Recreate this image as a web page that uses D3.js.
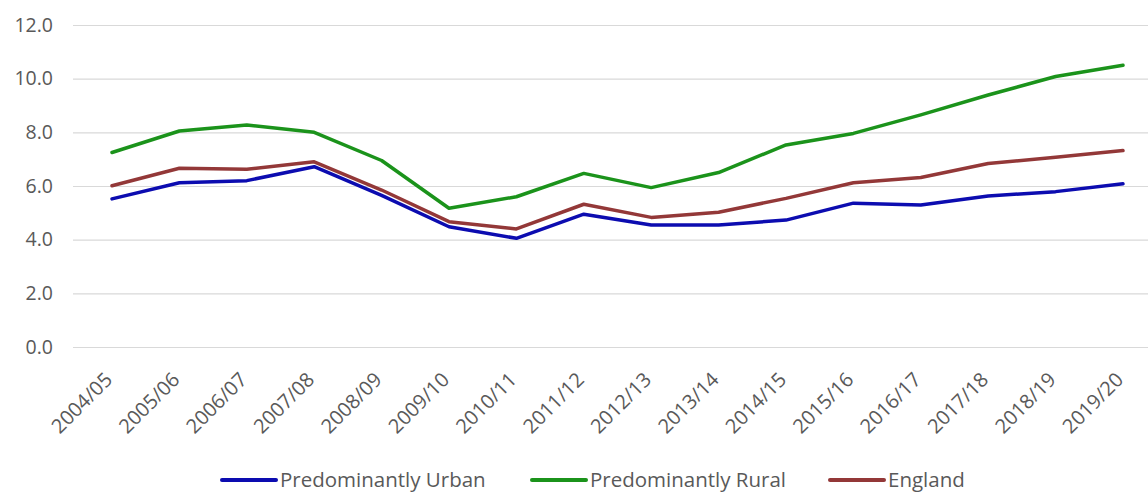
<!DOCTYPE html>
<html>
<head>
<meta charset="utf-8">
<script src="https://cdn.jsdelivr.net/npm/d3@7"></script>
<style>
  body { margin: 0; background: #fff; }
  text { font-family: "Open Sans", Lato, sans-serif; fill: #595959; }
</style>
</head>
<body>
<svg width="1148" height="493"></svg>
<script>
var years = ["2004/05", "2005/06", "2006/07", "2007/08", "2008/09", "2009/10", "2010/11", "2011/12",
    "2012/13", "2013/14", "2014/15", "2015/16", "2016/17", "2017/18", "2018/19", "2019/20"];

var urban   = [5.52, 6.12, 6.20, 6.72, 5.65, 4.48, 4.05, 4.95, 4.55, 4.55, 4.73, 5.36, 5.29, 5.63, 5.79, 6.08];
var rural   = [7.25, 8.05, 8.27, 8.00, 6.95, 5.17, 5.60, 6.47, 5.94, 6.50, 7.53, 7.96, 8.65, 9.39, 10.08, 10.50];
var england = [6.01, 6.66, 6.62, 6.90, 5.85, 4.67, 4.40, 5.32, 4.83, 5.02, 5.54, 6.12, 6.32, 6.84, 7.07, 7.32];

var yTicks = [0, 2, 4, 6, 8, 10, 12];

var series = [
    {name: "Predominantly Urban", values: urban, color: "#0c0cb0"},
    {name: "Predominantly Rural", values: rural, color: "#1b931b"},
    {name: "England", values: england, color: "#933838"}
];

var svg = d3.select("svg"),
    plotLeft = 73, plotRight = 1148, plotTop = 25, plotBottom = 347;

var x = d3.scalePoint().domain(years).range([112, 1123]),
    y = d3.scaleLinear().domain([0, 12]).range([plotBottom, plotTop]);

// gridlines + y labels
var yAxis = d3.axisLeft(y)
    .tickValues(yTicks)
    .tickSize(-(plotRight - plotLeft))
    .tickPadding(20)
    .tickFormat(d3.format(".1f"));

var yG = svg.append("g")
    .attr("transform", "translate(" + plotLeft + ",0)")
    .call(yAxis);
yG.select(".domain").remove();
yG.selectAll("line").attr("stroke", "#d9d9d9").attr("stroke-width", 1.2);
yG.selectAll("text")
    .style("font-size", "19.5px")
    .attr("fill", "#595959");

// x labels
var xAxis = d3.axisBottom(x).tickSize(0).tickPadding(0);
var xG = svg.append("g")
    .attr("transform", "translate(0," + plotBottom + ")")
    .call(xAxis);
xG.select(".domain").remove();
xG.selectAll("text")
    .style("font-size", "20px")
    .attr("fill", "#595959")
    .style("text-anchor", "end")
    .attr("dy", null)
    .attr("y", 0)
    .attr("transform", "translate(1,34) rotate(-45)");

// lines
var line = d3.line()
    .x(function(d, i) { return x(years[i]); })
    .y(function(d) { return y(d); });

svg.selectAll(".series")
    .data(series)
    .enter().append("path")
    .attr("class", "series")
    .attr("d", function(s) { return line(s.values); })
    .attr("fill", "none")
    .attr("stroke", function(s) { return s.color; })
    .attr("stroke-width", 3.5)
    .attr("stroke-linejoin", "round")
    .attr("stroke-linecap", "round");

// legend
var legendX = [222, 532, 830];
var leg = svg.selectAll(".legend")
    .data(series)
    .enter().append("g")
    .attr("class", "legend")
    .attr("transform", function(d, i) { return "translate(" + legendX[i] + ",480)"; });

leg.append("line")
    .attr("x1", 0).attr("x2", 54)
    .attr("stroke", function(d) { return d.color; })
    .attr("stroke-width", 4)
    .attr("stroke-linecap", "round");

leg.append("text")
    .attr("x", 58)
    .attr("dy", "0.35em")
    .style("font-size", "20.5px")
    .text(function(d) { return d.name; });
</script>
</body>
</html>
